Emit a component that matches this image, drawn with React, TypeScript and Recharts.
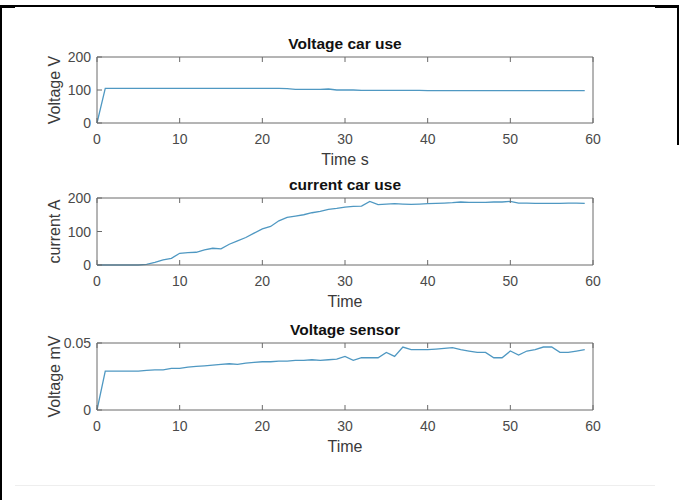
import React from 'react';
import { LineChart, Line, XAxis, YAxis } from 'recharts';

// sample times (s)
const times = [
  0, 1, 2, 3, 4, 5, 6, 7, 8, 9, 10, 11, 12, 13, 14, 15, 16, 17, 18, 19,
  20, 21, 22, 23, 24, 25, 26, 27, 28, 29, 30, 31, 32, 33, 34, 35, 36, 37, 38, 39,
  40, 41, 42, 43, 44, 45, 46, 47, 48, 49, 50, 51, 52, 53, 54, 55, 56, 57, 58, 59,
];

// battery voltage (V)
const carVoltage = [
  0, 105, 105, 105, 105, 105, 105, 105, 105, 105, 105, 105, 105, 105, 105, 105, 105, 105, 105, 105,
  105, 105, 105, 104, 102, 102, 102, 102, 103, 100, 100, 100, 99, 99, 99, 99, 99, 99, 99, 99,
  98, 98, 98, 98, 98, 98, 98, 98, 98, 98, 98, 98, 98, 98, 98, 98, 98, 98, 98, 98,
];

// motor current (A)
const carCurrent = [
  0, 0, 0, 0, 0, 0, 2, 8, 15, 20, 35, 37, 38, 45, 50, 48, 62, 72, 82, 95,
  108, 115, 132, 142, 146, 150, 156, 160, 166, 169, 173, 175, 176, 190, 180, 182, 183, 182, 181, 182,
  183, 184, 185, 186, 188, 187, 187, 187, 188, 188, 190, 185, 185, 184, 184, 184, 184, 185, 185, 184,
];

// sensor output (mV)
const sensorVoltage = [
  0, 0.029, 0.029, 0.029, 0.029, 0.029, 0.0295, 0.03, 0.03, 0.031, 0.031, 0.032, 0.0325, 0.033, 0.0335, 0.034, 0.0345, 0.034, 0.035, 0.0355,
  0.036, 0.036, 0.0365, 0.0365, 0.037, 0.037, 0.0375, 0.037, 0.0375, 0.038, 0.04, 0.037, 0.039, 0.039, 0.039, 0.043, 0.04, 0.047, 0.045, 0.045,
  0.045, 0.0455, 0.046, 0.0465, 0.045, 0.044, 0.043, 0.043, 0.039, 0.039, 0.044, 0.041, 0.044, 0.045, 0.047, 0.047, 0.043, 0.043, 0.044, 0.045,
];

const xTicks = [0, 10, 20, 30, 40, 50, 60];

const font = '"Liberation Sans", Arial, Helvetica, sans-serif';
const axisColor = '#6a6a6a';
const textColor = '#4a4a4a';
const lineColor = '#4f98c2';

// MATLAB style: tick marks point into the box, labels stay outside
const BottomTick = (props: any) => {
  const { x, y, payload } = props;
  return (
    <g>
      <line x1={x} y1={y} x2={x} y2={y - 5} stroke={axisColor} />
      <text x={x} y={y + 21} textAnchor="middle" fontSize={14} fill={textColor} fontFamily={font}>
        {payload.value}
      </text>
    </g>
  );
};

const TopTick = (props: any) => {
  const { x, y } = props;
  return <line x1={x} y1={y} x2={x} y2={y + 5} stroke={axisColor} />;
};

const LeftTick = (props: any) => {
  const { x, y, payload } = props;
  return (
    <g>
      <line x1={x} y1={y} x2={x + 5} y2={y} stroke={axisColor} />
      <text x={x - 6} y={y + 5} textAnchor="end" fontSize={14} fill={textColor} fontFamily={font}>
        {payload.value}
      </text>
    </g>
  );
};

const RightTick = (props: any) => {
  const { x, y } = props;
  return <line x1={x} y1={y} x2={x - 5} y2={y} stroke={axisColor} />;
};

interface PanelProps {
  values: number[];
  title: string;
  xLabel: string;
  yLabel: string;
  yMax: number;
  yTicks: number[];
  height: number;
  top: number;
  bottom: number;
}

// axes get a 1px band (a zero sized axis is not drawn at all)
function Panel({ values, title, xLabel, yLabel, yMax, yTicks, height, top, bottom }: PanelProps) {
  const data = times.map((t, i) => ({ t, v: values[i] }));
  return (
    <LineChart width={679} height={height} data={data} margin={{ top: top - 1, right: 85, bottom: bottom - 1, left: 96 }}>
      <XAxis
        dataKey="t"
        type="number"
        domain={[0, 60]}
        ticks={xTicks}
        height={1}
        tickSize={0}
        tickMargin={0}
        tickLine={false}
        tick={BottomTick}
        stroke={axisColor}
        interval={0}
        label={{ value: xLabel, position: 'bottom', offset: 30, fill: '#3a3a3a', fontSize: 16, fontFamily: font }}
      />
      <XAxis
        xAxisId="top"
        orientation="top"
        dataKey="t"
        type="number"
        domain={[0, 60]}
        ticks={xTicks}
        height={1}
        tickSize={0}
        tickMargin={0}
        tickLine={false}
        tick={TopTick}
        stroke={axisColor}
        interval={0}
        label={{ value: title, position: 'top', offset: 7, fill: '#111', fontSize: 15.5, fontWeight: 'bold', fontFamily: font }}
      />
      <YAxis
        domain={[0, yMax]}
        ticks={yTicks}
        width={1}
        tickSize={0}
        tickMargin={0}
        tickLine={false}
        tick={LeftTick}
        stroke={axisColor}
        interval={0}
        label={{ value: yLabel, angle: -90, position: 'left', offset: 42, fill: '#3a3a3a', fontSize: 16, fontFamily: font, style: { textAnchor: 'middle' } }}
      />
      <YAxis
        yAxisId="right"
        orientation="right"
        domain={[0, yMax]}
        ticks={yTicks}
        width={1}
        tickSize={0}
        tickMargin={0}
        tickLine={false}
        tick={RightTick}
        stroke={axisColor}
        interval={0}
      />
      <Line type="linear" dataKey="v" stroke={lineColor} strokeWidth={1.3} dot={false} isAnimationActive={false} />
    </LineChart>
  );
}

export default function App() {
  return (
    <div style={{ position: 'absolute', top: 0, left: 0, width: 679, height: 500, background: '#fff', overflow: 'hidden' }}>
      {/* frame of the original screenshot */}
      <div style={{ position: 'absolute', top: 5, left: 0, width: 679, height: 2, background: '#000' }} />
      <div style={{ position: 'absolute', top: 5, left: 0, width: 15, height: 3, background: '#000' }} />
      <div style={{ position: 'absolute', top: 5, left: 655, width: 24, height: 3, background: '#000' }} />
      <div style={{ position: 'absolute', top: 5, left: 0, width: 2, height: 495, background: '#000' }} />
      <div style={{ position: 'absolute', top: 5, left: 677, width: 2, height: 140, background: '#000' }} />
      <div style={{ position: 'absolute', top: 485, left: 15, width: 640, height: 1, background: '#eeeeee' }} />

      {/* the panels overlap a little so that titles are not clipped */}
      <div style={{ position: 'absolute', top: 0, left: 0 }}>
        <Panel values={carVoltage} title="Voltage car use" xLabel="Time s" yLabel="Voltage V" yMax={200} yTicks={[0, 100, 200]} height={180} top={57} bottom={57} />
      </div>
      <div style={{ position: 'absolute', top: 165, left: 0 }}>
        <Panel values={carCurrent} title="current car use" xLabel="Time" yLabel="current A" yMax={200} yTicks={[0, 100, 200]} height={157} top={33} bottom={57} />
      </div>
      <div style={{ position: 'absolute', top: 307, left: 0 }}>
        <Panel values={sensorVoltage} title="Voltage sensor" xLabel="Time" yLabel="Voltage mV" yMax={0.05} yTicks={[0, 0.05]} height={193} top={36} bottom={90} />
      </div>
    </div>
  );
}
